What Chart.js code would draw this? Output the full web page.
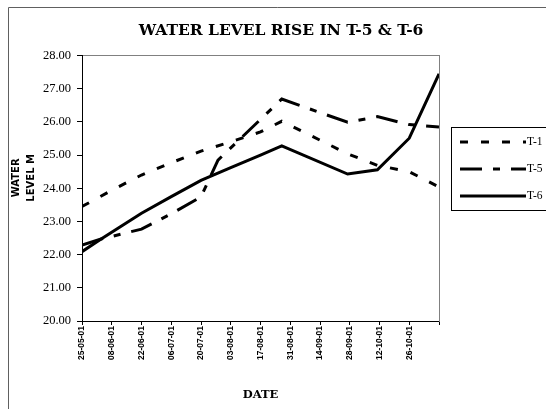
<!DOCTYPE html>
<html>
<head>
<meta charset="utf-8">
<script src="https://cdn.jsdelivr.net/npm/chart.js@4.4.0/dist/chart.umd.min.js"></script>
<style>
  html, body { margin: 0; padding: 0; background: #fff; overflow: hidden; }
  #wrap { position: relative; width: 546px; height: 409px; }
</style>
</head>
<body>
<div id="wrap"><canvas id="c" width="546" height="409"></canvas></div>
<script>
// Tick labels every 14 days, starting 25-05-01
const tickLabels = ['25-05-01', '08-06-01', '22-06-01', '06-07-01', '20-07-01', '03-08-01',
                    '17-08-01', '31-08-01', '14-09-01', '28-09-01', '12-10-01', '26-10-01'];

// Readings: day counted from 25-05-01, water level in m
const dayT1 = [0, 14, 28, 42, 56, 70, 84, 94, 125, 139, 154, 168];
const levelT1 = [23.45, 23.94, 24.40, 24.77, 25.12, 25.40, 25.70, 26.02, 25.04, 24.69, 24.50, 24.04];

const dayT5 = [0, 9, 28, 42, 56, 64, 94, 125, 139, 154, 168];
const levelT5 = [22.29, 22.47, 22.77, 23.23, 23.74, 24.85, 26.69, 25.99, 26.16, 25.92, 25.85];

const dayT6 = [0, 9, 28, 42, 56, 70, 84, 94, 125, 139, 154, 168];
const levelT6 = [22.09, 22.47, 23.25, 23.75, 24.24, 24.62, 25.00, 25.28, 24.43, 24.56, 25.51, 27.45];

const pts = (days, vals) => days.map((d, i) => ({ x: d, y: vals[i] }));

const SERIF = "'Liberation Serif', 'Times New Roman', serif";
const WIDE_SERIF = "'DejaVu Serif', 'Liberation Serif', serif";
const SANS = "'Liberation Sans', Arial, sans-serif";
const WIDE_SANS = "'DejaVu Sans', 'Liberation Sans', sans-serif";

// Outer frame of the chart sheet
const framePlugin = {
  id: 'frame',
  beforeDraw(chart) {
    const ctx = chart.ctx;
    ctx.save();
    ctx.fillStyle = '#fff';
    ctx.fillRect(0, 0, chart.width, chart.height);
    ctx.strokeStyle = '#606060';
    ctx.lineWidth = 1;
    ctx.beginPath();
    ctx.moveTo(8.5, chart.height);
    ctx.lineTo(8.5, 7.5);
    ctx.lineTo(chart.width, 7.5);
    ctx.stroke();
    ctx.restore();
  }
};

// Boxed legend with line samples
const boxLegendPlugin = {
  id: 'boxLegend',
  afterDraw(chart) {
    const ctx = chart.ctx;
    const box = { x: 451.5, y: 127.5, w: 120, h: 83 };
    ctx.save();
    ctx.fillStyle = '#fff';
    ctx.fillRect(box.x, box.y, box.w, box.h);
    ctx.strokeStyle = '#000';
    ctx.lineWidth = 1;
    ctx.setLineDash([]);
    ctx.strokeRect(box.x, box.y, box.w, box.h);
    chart.data.datasets.forEach((ds, i) => {
      const y = 142 + i * 27;
      ctx.save();
      ctx.strokeStyle = ds.borderColor;
      ctx.lineWidth = ds.borderWidth;
      ctx.lineCap = 'butt';
      ctx.setLineDash(ds.borderDash || []);
      ctx.beginPath();
      ctx.moveTo(460, y);
      ctx.lineTo(526, y);
      ctx.stroke();
      ctx.restore();
      ctx.fillStyle = '#000';
      ctx.font = '11.5px ' + SERIF;
      ctx.textBaseline = 'middle';
      ctx.textAlign = 'left';
      ctx.fillText(ds.label, 527, y);
    });
    ctx.restore();
  }
};

new Chart(document.getElementById('c'), {
  type: 'line',
  data: {
    datasets: [
      { label: 'T-1', data: pts(dayT1, levelT1), borderColor: '#000', borderWidth: 3,
        borderDash: [8, 13], borderCapStyle: 'butt', pointRadius: 0, tension: 0, fill: false },
      { label: 'T-5', data: pts(dayT5, levelT5), borderColor: '#000', borderWidth: 3,
        borderDash: [22, 11, 7, 11], borderCapStyle: 'butt', pointRadius: 0, tension: 0, fill: false },
      { label: 'T-6', data: pts(dayT6, levelT6), borderColor: '#000', borderWidth: 3,
        borderCapStyle: 'butt', pointRadius: 0, tension: 0, fill: false }
    ]
  },
  options: {
    responsive: false,
    animation: false,
    devicePixelRatio: 1,
    layout: { padding: 0 },
    plugins: {
      legend: { display: false },
      tooltip: { enabled: false },
      title: {
        display: true,
        text: '   WATER LEVEL RISE IN T-5 & T-6',
        color: '#000',
        font: { family: WIDE_SERIF, size: 15.5, weight: 'bold' },
        padding: { top: 22, bottom: 15 }
      }
    },
    scales: {
      x: {
        type: 'linear',
        position: 'bottom',
        min: 0,
        max: 168,
        afterFit: s => { s.height = 88; },
        ticks: {
          stepSize: 14,
          autoSkip: false,
          minRotation: 90,
          maxRotation: 90,
          padding: 1,
          color: '#000',
          font: { family: SANS, size: 8.5, weight: 'bold' },
          callback: v => tickLabels[Math.round(v / 14)] || ''
        },
        grid: { display: true, drawOnChartArea: false, drawTicks: true, tickLength: 4, color: '#000' },
        border: { display: true, color: '#000', width: 1 },
        title: {
          display: true, text: 'DATE', color: '#000',
          font: { family: WIDE_SERIF, size: 11.5, weight: 'bold' },
          padding: { top: 4, bottom: 7 }
        }
      },
      xTop: {
        type: 'linear',
        position: 'top',
        min: 0,
        max: 1,
        afterFit: s => { s.height = 0; },
        ticks: { display: false },
        grid: { display: false },
        border: { display: true, color: '#808080', width: 1 }
      },
      y: {
        position: 'left',
        min: 20,
        max: 28,
        afterFit: s => { s.width = 82; },
        ticks: {
          stepSize: 1,
          padding: 6,
          color: '#000',
          font: { family: SERIF, size: 12.5 },
          callback: v => v.toFixed(2)
        },
        grid: { display: true, drawOnChartArea: false, drawTicks: true, tickLength: 5, color: '#000' },
        border: { display: true, color: '#000', width: 1 },
        title: {
          display: true, text: ['      WATER', '      LEVEL M'], color: '#000',
          font: { family: WIDE_SANS, size: 10, weight: 'bold', lineHeight: 1.5 },
          padding: { top: 9, bottom: 0 }
        }
      },
      yRight: {
        position: 'right',
        min: 0,
        max: 1,
        afterFit: s => { s.width = 107; },
        ticks: { display: false },
        grid: { display: false },
        border: { display: true, color: '#808080', width: 1 }
      }
    }
  },
  plugins: [framePlugin, boxLegendPlugin]
});
</script>
</body>
</html>
